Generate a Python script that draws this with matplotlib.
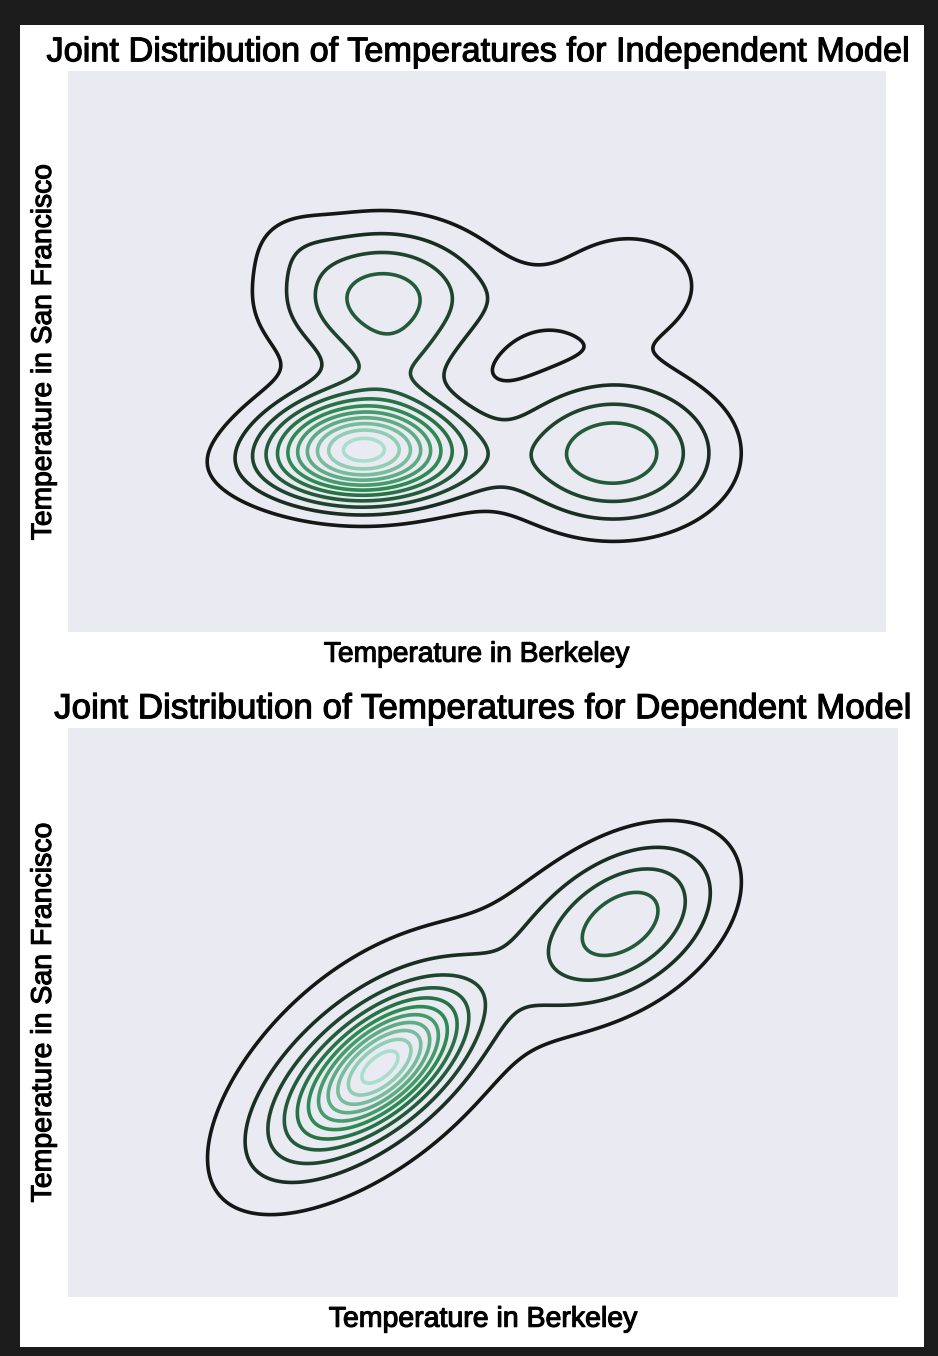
import numpy as np
import matplotlib.pyplot as plt
import matplotlib.patheffects as pe
from matplotlib.colors import LinearSegmentedColormap
from matplotlib.patches import Rectangle

plt.rcParams['font.family'] = ['Liberation Sans', 'DejaVu Sans']

# density bumps: centre (Berkeley, SF), spread along/across, tilt, height
ind_x = [58.85, 58.1, 59.75, 71.3, 72.1, 67.1, 60.35, 55.1]
ind_y = [54.35, 53.2, 61.75, 53.95, 62.35, 61.6, 58.6, 64.6]
ind_major = [3.1, 4.5, 3.75, 3.6, 2.8, 2.0, 2.0, 1.5]
ind_minor = [1.75, 1.5, 2.5, 2.5, 2.1, 1.25, 1.3, 1.25]
ind_angle = [0, 0, 0, 0, 0, 0, 0, 0]
ind_height = [9.3, 2.3, 4.3, 4.6, 1.75, 0.4, 0.9, 0.5]

dep_x = [59.85, 57.35, 59.4, 71.85]
dep_y = [56.65, 54.85, 56.85, 63.75]
dep_major = [3.0, 4.0, 6.5, 3.75]
dep_minor = [1.5, 1.9, 3.6, 2.4]
dep_angle = [40, 40, 40, 35]
dep_height = [7.6, 1.8, 2.3, 4.3]

n_levels = 11

cmap = LinearSegmentedColormap.from_list('greens_d', ['#161616', '#2c8a52', '#a8dfcc'])


def density(xx, yy, mx, my, s1, s2, ang, h):
    z = np.zeros_like(xx)
    for a, b, c, d, t, k in zip(mx, my, s1, s2, ang, h):
        t = np.radians(t)
        u = (xx - a) * np.cos(t) + (yy - b) * np.sin(t)
        v = -(xx - a) * np.sin(t) + (yy - b) * np.cos(t)
        z += k * np.exp(-0.5 * ((u / c) ** 2 + (v / d) ** 2))
    return z


fig = plt.figure(figsize=(9.38, 13.56), dpi=100)
fig.patch.set_facecolor('#1c1c1c')
fig.patches.append(Rectangle((20 / 938, 9 / 1356), 904 / 938, 1322 / 1356,
                             transform=fig.transFigure, facecolor='white',
                             edgecolor='none', zorder=-10))

ax1 = fig.add_axes([68 / 938, 1 - 632 / 1356, 818 / 938, 561 / 1356])
ax2 = fig.add_axes([68 / 938, 1 - 1297 / 1356, 830 / 938, 569 / 1356])

panels = [
    (ax1, 'Joint Distribution of Temperatures for Independent Model', (44, 84.9), (45, 73.05),
     (ind_x, ind_y, ind_major, ind_minor, ind_angle, ind_height), 24.7, 20.3),
    (ax2, 'Joint Distribution of Temperatures for Dependent Model', (44, 85.5), (45, 73.45),
     (dep_x, dep_y, dep_major, dep_minor, dep_angle, dep_height), 25.2, 20.5),
]

bold = [pe.Stroke(linewidth=0.8, foreground='black'), pe.Normal()]

for ax, title, xl, yl, comps, tsize, lsize in panels:
    xx, yy = np.meshgrid(np.linspace(xl[0], xl[1], 400), np.linspace(yl[0], yl[1], 300))
    z = density(xx, yy, *comps)
    step = z.max() / (n_levels + 0.55)
    levels = step * np.arange(1, n_levels + 1)
    ax.contour(xx, yy, z, levels=levels, cmap=cmap, linewidths=2.6)
    ax.set_facecolor('#eaeaf2')
    ax.set_xlim(xl)
    ax.set_ylim(yl)
    ax.set_xticks([])
    ax.set_yticks([])
    for s in ax.spines.values():
        s.set_visible(False)
    ax.set_title(title, fontsize=tsize, pad=7, path_effects=bold)
    ax.set_xlabel('Temperature in Berkeley', fontsize=lsize, labelpad=7, path_effects=bold)
    ax.set_ylabel('Temperature in San Francisco', fontsize=lsize, labelpad=8, path_effects=bold)

fig.savefig('out.png', dpi=100, facecolor=fig.get_facecolor())
